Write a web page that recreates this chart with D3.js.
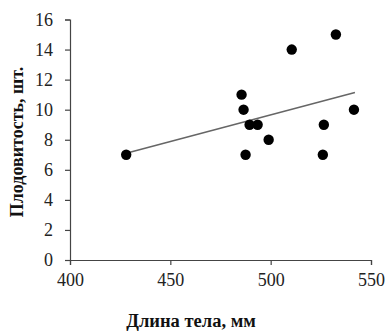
<!DOCTYPE html>
<html>
<head>
<meta charset="utf-8">
<script src="https://cdn.jsdelivr.net/npm/d3@7"></script>
<style>
  body { margin: 0; background: #fff; }
  svg { display: block; }
</style>
</head>
<body>
<svg width="387" height="332"></svg>
<script>
// body length (mm) vs fecundity
const lengths = [428, 485.5, 486.5, 489.5, 493.5, 487.5, 499, 510.5, 532.5, 526.5, 526, 541.5];
const fecundity = [7, 11, 10, 9, 9, 7, 8, 14, 15, 9, 7, 10];
// trend line ends
const trendX = [428, 542];
const trendY = [7.1, 11.15];

const xTicks = [400, 450, 500, 550];
const yTicks = [0, 2, 4, 6, 8, 10, 12, 14, 16];

const svg = d3.select("svg");
const x = d3.scaleLinear().domain([400, 550]).range([70, 371]);
const y = d3.scaleLinear().domain([0, 16]).range([260, 19.5]);

const font = "'Liberation Serif', 'Times New Roman', serif";

// x axis
const gx = svg.append("g")
  .attr("transform", `translate(0,${y(0)})`)
  .call(d3.axisBottom(x).tickValues(xTicks).tickSize(5).tickPadding(8).tickFormat(d3.format("d")));
// y axis
const gy = svg.append("g")
  .attr("transform", `translate(${x(400)},0)`)
  .call(d3.axisLeft(y).tickValues(yTicks).tickSize(5).tickPadding(12));

[gx, gy].forEach(g => {
  g.select(".domain").attr("stroke", "#444").attr("stroke-width", 1.2);
  g.selectAll(".tick line").attr("stroke", "#444").attr("stroke-width", 1.2);
  g.selectAll(".tick text")
    .attr("fill", "#222")
    .style("font-family", font)
    .style("font-size", "18px");
});

// trend line
svg.append("line")
  .attr("x1", x(trendX[0])).attr("y1", y(trendY[0]))
  .attr("x2", x(trendX[1])).attr("y2", y(trendY[1]))
  .attr("stroke", "#666")
  .attr("stroke-width", 1.5);

// points
svg.append("g")
  .selectAll("circle")
  .data(lengths)
  .enter()
  .append("circle")
  .attr("cx", d => x(d))
  .attr("cy", (d, i) => y(fecundity[i]))
  .attr("r", 5.2)
  .attr("fill", "#000");

// axis titles
svg.append("text")
  .attr("x", 191)
  .attr("y", 327)
  .attr("text-anchor", "middle")
  .style("font-family", font)
  .style("font-weight", "bold")
  .style("font-size", "18.5px")
  .attr("fill", "#111")
  .text("Длина тела, мм");

svg.append("text")
  .attr("transform", "translate(23,142) rotate(-90)")
  .attr("text-anchor", "middle")
  .style("font-family", font)
  .style("font-weight", "bold")
  .style("font-size", "18px")
  .attr("fill", "#111")
  .text("Плодовитость, шт.");
</script>
</body>
</html>
